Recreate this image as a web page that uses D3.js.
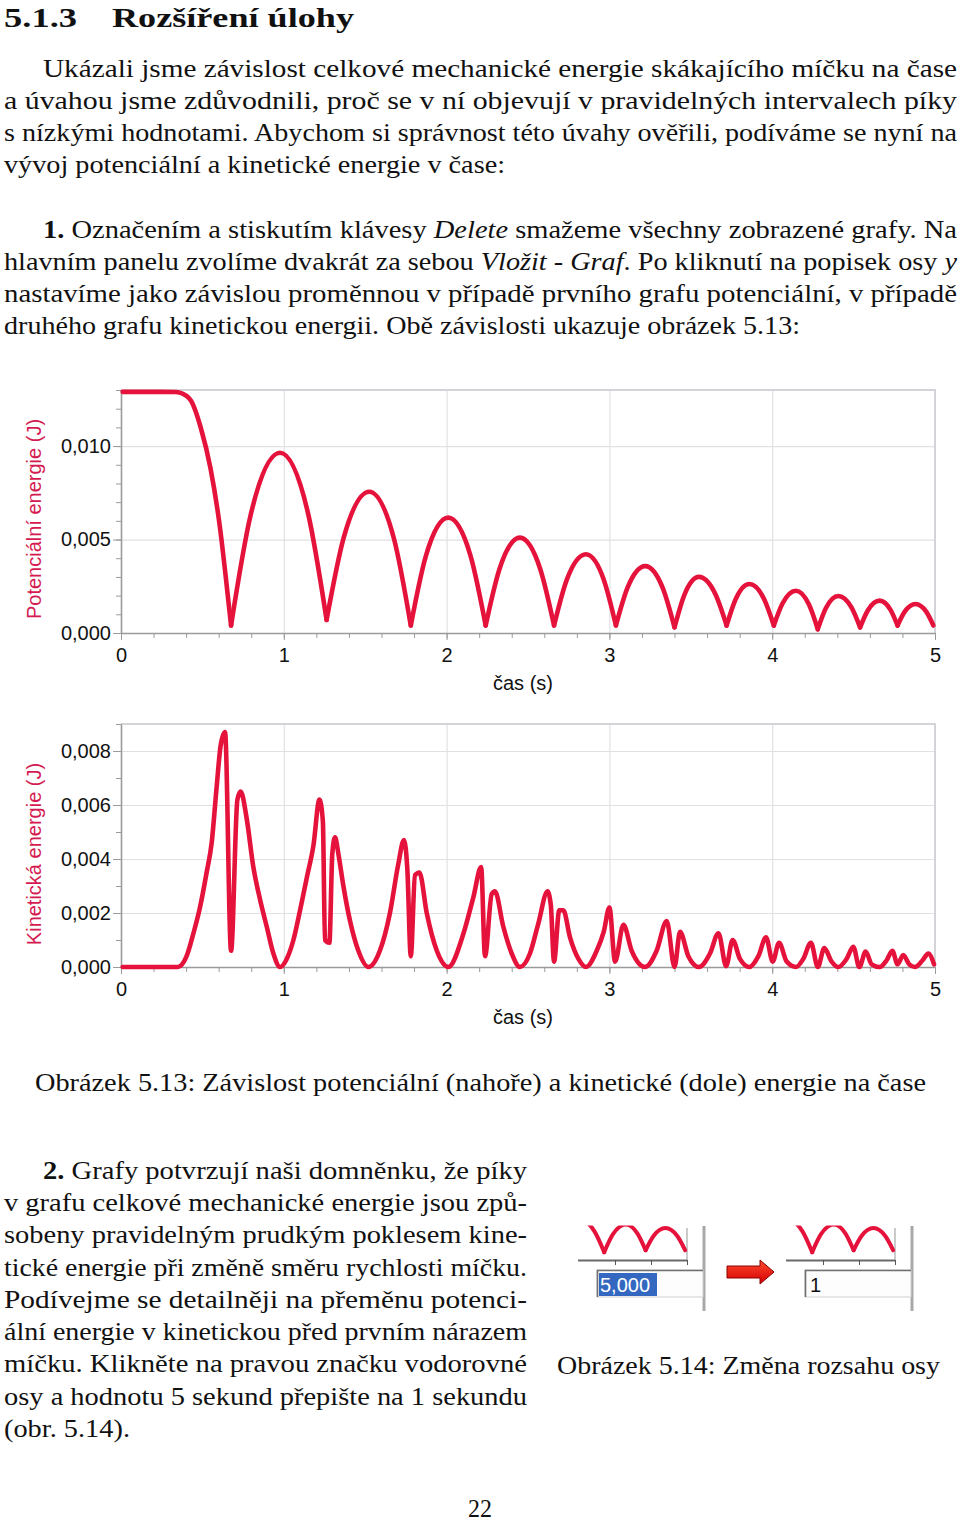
<!DOCTYPE html>
<html><head><meta charset="utf-8">
<script src="https://cdn.jsdelivr.net/npm/d3@7"></script>
<style>html,body{margin:0;padding:0;background:#fff;}svg{display:block;}</style>
</head><body><svg id="page" width="960" height="1521"></svg>
<script>
// ---------- data ----------
const xTicks = [0, 1, 2, 3, 4, 5];
const peTicks = [0, 0.005, 0.010];
const keTicks = [0, 0.002, 0.004, 0.006, 0.008];
const axisLabelX = "čas (s)";
const peLabel = "Potenciální energie (J)";
const keLabel = "Kinetická energie (J)";

// potential energy (t [s], E [J])
const peT = [0.01,0.20,0.33,0.37,0.43,0.49,0.55,0.61,0.646,0.676,
  0.796,0.977,1.149,1.263,1.368,1.525,1.678,1.780,1.872,2.010,2.148,2.240,
  2.324,2.450,2.576,2.660,2.738,2.856,2.966,3.040,3.112,3.220,3.328,3.400,
  3.460,3.550,3.652,3.720,3.776,3.860,3.950,4.010,4.064,4.146,4.226,4.280,
  4.330,4.406,4.486,4.540,4.588,4.660,4.726,4.770,4.814,4.880,4.946,4.990];
const peV = [0.0129,0.0129,0.01289,0.01283,0.01242,0.01098,0.0088,0.0055,0.0028,0.0004,
  0.0063,0.00964,0.0064,0.0007,0.0051,0.00756,0.0050,0.0004,0.0041,0.00617,0.0041,0.0004,
  0.0034,0.0051,0.0034,0.0004,0.00284,0.00421,0.00284,0.0004,0.00244,0.00358,0.0024,0.0003,
  0.00203,0.0030,0.00206,0.0004,0.00182,0.00262,0.00182,0.0004,0.00159,0.00226,0.00152,0.0002,
  0.00134,0.00198,0.00138,0.0003,0.00122,0.00173,0.00125,0.0004,0.00114,0.00155,0.00114,0.0004];

// kinetic energy (t [s], E [J])
const keT = [0.01,0.35,0.403,0.445,0.485,0.526,0.557,0.588,0.612,0.639,0.676,0.715,0.735,0.772,0.813,0.854,0.895,0.936,0.977,
  1.018,1.059,1.100,1.141,1.182,1.219,1.240,1.253,1.280,1.298,1.315,1.335,1.366,1.407,1.458,1.520,
  1.590,1.652,1.703,1.738,1.759,1.780,1.806,1.833,1.878,1.940,2.010,
  2.104,2.165,2.212,2.236,2.277,2.297,2.348,2.400,2.450,
  2.512,2.563,2.620,2.640,2.660,2.692,2.717,2.758,2.810,2.856,
  2.922,2.965,3.000,3.035,3.086,3.137,3.220,
  3.290,3.352,3.400,3.434,3.485,3.550,
  3.618,3.670,3.717,3.757,3.802,3.860,
  3.915,3.962,4.003,4.042,4.089,4.146,
  4.191,4.238,4.280,4.320,4.365,4.406,
  4.457,4.498,4.535,4.574,4.611,4.660,
  4.703,4.738,4.770,4.805,4.842,4.877,
  4.924,4.959,4.994];
const keV = [0,0,0.0004,0.00125,0.0022,0.0035,0.0046,0.0067,0.0082,0.0087,0.0006,0.0062,0.0065,0.0055,0.0037,0.0025,0.0015,0.0005,0,
  0.0003,0.0010,0.0021,0.0033,0.0045,0.0062,0.0054,0.0010,0.0009,0.0042,0.0048,0.0042,0.0030,0.0017,0.0006,0,
  0.0006,0.0020,0.0038,0.0047,0.0036,0.0004,0.0034,0.0035,0.0020,0.0006,0,
  0.00125,0.0026,0.0037,0.0004,0.0027,0.0028,0.0015,0.0005,0,
  0.0005,0.0016,0.0028,0.0023,0.0002,0.0021,0.0021,0.0011,0.0003,0,
  0.0006,0.0013,0.0022,0.0002,0.00156,0.0006,0,
  0.0006,0.0017,0.0000,0.0013,0.0004,0,
  0.0005,0.00125,0.00003,0.0010,0.0003,0,
  0.0004,0.0011,0.0002,0.0009,0.0002,0,
  0.0003,0.0009,0.0000,0.0007,0.0002,0,
  0.0003,0.00075,0.0000,0.00057,0.0001,0,
  0.00025,0.0006,0.0001,0.00044,0.0001,0,
  0.00025,0.0005,0.0001];

// mini illustration (obr. 5.14)
const miniTicks = [4.6, 4.8, 5.0];
const miniBoxTexts = ["5,000", "1"];

// ---------- page ----------
const svg = d3.select("#page");
const RED = "#e5133c";
const LABEL_RED = "#d41a50";
const SANS = "'Liberation Sans', Arial, sans-serif";
const SERIF = "'Liberation Serif', Tinos, 'Times New Roman', Times, serif";

const loc = d3.formatLocale({decimal: ",", thousands: " ", grouping: [3], currency: ["", ""]});
const fmt3 = loc.format(".3f");

const x = d3.scaleLinear().domain([0, 5]).range([121, 935]);

function splitMinima(pts) {
  const segs = [];
  let start = 0;
  for (let i = 1; i < pts.length - 1; i++) {
    if (pts[i][1] < pts[i - 1][1] && pts[i][1] < pts[i + 1][1]) { segs.push(pts.slice(start, i + 1)); start = i; }
  }
  segs.push(pts.slice(start));
  return segs;
}

function drawChart(y, ticks, tArr, vArr, label, labelCy, splitAtMinima) {
  const g = svg.append("g");
  const [yb, yt] = y.range();
  const ymax = y.domain()[1];
  g.append("g").attr("transform", `translate(0,${yb})`)
    .call(d3.axisBottom(x).tickValues(xTicks.slice(1, -1)).tickSize(-(yb - yt)).tickFormat(""))
    .call(a => a.select(".domain").remove())
    .selectAll("line").attr("stroke", "#e1e1e4").attr("stroke-width", 1.2);
  g.append("g").attr("transform", `translate(${x(0)},0)`)
    .call(d3.axisLeft(y).tickValues(ticks.slice(1)).tickSize(-(x(5) - x(0))).tickFormat(""))
    .call(a => a.select(".domain").remove())
    .selectAll("line").attr("stroke", "#e1e1e4").attr("stroke-width", 1.2);
  g.append("path").attr("d", `M${x(0)},${y(ymax)}H${x(5)}V${yb}`)
    .attr("fill", "none").attr("stroke", "#d4d4d8").attr("stroke-width", 2);
  g.append("g").attr("transform", `translate(0,${yb})`).attr("color", "#9a9a9a")
    .call(d3.axisBottom(x).tickValues(d3.range(0, 5.0001, 0.2)).tickSize(5).tickSizeOuter(0).tickFormat(""));
  g.append("g").attr("transform", `translate(${x(0)},0)`).attr("color", "#9a9a9a")
    .call(d3.axisLeft(y).tickValues(d3.range(0, ymax + 1e-9, 0.001)).tickSize(5).tickSizeOuter(0).tickFormat(""));
  const ax = g.append("g").attr("transform", `translate(0,${yb})`).attr("color", "#9a9a9a")
    .call(d3.axisBottom(x).tickValues(xTicks).tickSize(7).tickSizeOuter(0).tickPadding(8).tickFormat(d3.format("d")));
  const ay = g.append("g").attr("transform", `translate(${x(0)},0)`).attr("color", "#9a9a9a")
    .call(d3.axisLeft(y).tickValues(ticks).tickSize(8).tickSizeOuter(0).tickPadding(2).tickFormat(fmt3));
  [ax, ay].forEach(a => {
    a.attr("font-family", SANS).attr("font-size", 20);
    a.selectAll(".domain").attr("stroke-width", 1.6);
    a.selectAll("text").attr("fill", "#111");
  });
  g.append("text").attr("x", 523).attr("y", yb + 57).attr("text-anchor", "middle")
    .attr("font-family", SANS).attr("font-size", 20).attr("fill", "#111").text(axisLabelX);
  g.append("text").attr("transform", `translate(41,${labelCy}) rotate(-90)`).attr("text-anchor", "middle")
    .attr("font-family", SANS).attr("font-size", 20).attr("fill", LABEL_RED).text(label);
  const pts = tArr.map((t, i) => [t, vArr[i]]);
  const line = d3.line().x(d => x(d[0])).y(d => y(d[1])).curve(d3.curveMonotoneX);
  const segs = splitAtMinima ? splitMinima(pts) : [pts];
  g.selectAll("path.series").data(segs).join("path").attr("class", "series")
    .attr("d", line).attr("fill", "none").attr("stroke", RED).attr("stroke-width", 4.6)
    .attr("stroke-linejoin", "round").attr("stroke-linecap", "round");
}

const yPE = d3.scaleLinear().domain([0, 0.013]).range([633, 390]);
const yKE = d3.scaleLinear().domain([0, 0.009]).range([967, 724]);
drawChart(yPE, peTicks, peT, peV, peLabel, 519, true);
drawChart(yKE, keTicks, keT, keV, keLabel, 854, false);

// ---------- text ----------
const textLines = [
  {x: 4, y: 27, w: 73, size: 27, parts: [{s: "5.1.3", b: 1}]},
  {x: 112, y: 27, w: 242, size: 27, parts: [{s: "Rozšíření úlohy", b: 1}]},
  {x: 43, y: 77, w: 914, size: 25, parts: [{s: "Ukázali jsme závislost celkové mechanické energie skákajícího míčku na čase"}]},
  {x: 4, y: 109, w: 953, size: 25, parts: [{s: "a úvahou jsme zdůvodnili, proč se v ní objevují v pravidelných intervalech píky"}]},
  {x: 4, y: 141, w: 953, size: 25, parts: [{s: "s nízkými hodnotami. Abychom si správnost této úvahy ověřili, podíváme se nyní na"}]},
  {x: 4, y: 173, w: 501, size: 25, parts: [{s: "vývoj potenciální a kinetické energie v čase:"}]},
  {x: 43, y: 238, w: 914, size: 25, parts: [{s: "1.", b: 1}, {s: " Označením a stiskutím klávesy "}, {s: "Delete", i: 1}, {s: " smažeme všechny zobrazené grafy. Na"}]},
  {x: 4, y: 270, w: 953, size: 25, parts: [{s: "hlavním panelu zvolíme dvakrát za sebou "}, {s: "Vložit - Graf", i: 1}, {s: ". Po kliknutí na popisek osy "}, {s: "y", i: 1}]},
  {x: 4, y: 302, w: 953, size: 25, parts: [{s: "nastavíme jako závislou proměnnou v případě prvního grafu potenciální, v případě"}]},
  {x: 4, y: 334, w: 796, size: 25, parts: [{s: "druhého grafu kinetickou energii. Obě závislosti ukazuje obrázek 5.13:"}]},
  {x: 35, y: 1091, w: 891, size: 25, parts: [{s: "Obrázek 5.13: Závislost potenciální (nahoře) a kinetické (dole) energie na čase"}]},
  {x: 43, y: 1179, w: 484, size: 25, parts: [{s: "2.", b: 1}, {s: " Grafy potvrzují naši domněnku, že píky"}]},
  {x: 4, y: 1211, w: 523, size: 25, parts: [{s: "v grafu celkové mechanické energie jsou způ-"}]},
  {x: 4, y: 1243, w: 523, size: 25, parts: [{s: "sobeny pravidelným prudkým poklesem kine-"}]},
  {x: 4, y: 1276, w: 523, size: 25, parts: [{s: "tické energie při změně směru rychlosti míčku."}]},
  {x: 4, y: 1308, w: 523, size: 25, parts: [{s: "Podívejme se detailněji na přeměnu potenci-"}]},
  {x: 4, y: 1340, w: 523, size: 25, parts: [{s: "ální energie v kinetickou před prvním nárazem"}]},
  {x: 4, y: 1372, w: 523, size: 25, parts: [{s: "míčku. Klikněte na pravou značku vodorovné"}]},
  {x: 4, y: 1405, w: 523, size: 25, parts: [{s: "osy a hodnotu 5 sekund přepište na 1 sekundu"}]},
  {x: 4, y: 1437, w: 126, size: 25, parts: [{s: "(obr. 5.14)."}]},
  {x: 557, y: 1374, w: 383, size: 25, parts: [{s: "Obrázek 5.14: Změna rozsahu osy"}]},
  {x: 468, y: 1517, w: 24, size: 25, parts: [{s: "22"}]}
];
textLines.forEach(L => {
  const t = svg.append("text").attr("x", L.x).attr("y", L.y)
    .attr("font-family", SERIF).attr("font-size", L.size).attr("fill", "#111")
    .style("white-space", "pre")
    .attr("textLength", L.w).attr("lengthAdjust", "spacingAndGlyphs");
  L.parts.forEach(p => t.append("tspan")
    .attr("font-weight", p.b ? "bold" : null)
    .attr("font-style", p.i ? "italic" : null)
    .text(p.s));
});

// ---------- obr. 5.14 illustration ----------
const defs = svg.append("defs");
const grad = defs.append("linearGradient").attr("id", "arrowGrad").attr("x1", 0).attr("y1", 0).attr("x2", 0).attr("y2", 1);
grad.append("stop").attr("offset", 0).attr("stop-color", "#ff4a30");
grad.append("stop").attr("offset", 1).attr("stop-color", "#d30000");

function miniPanel(ox, idx) {
  const g = svg.append("g");
  const xm = d3.scaleLinear().domain([4.4, 5.0]).range([ox + 1, ox + 109]);
  const ym = d3.scaleLinear().domain([0, 0.0015]).range([1258, 1229]);
  const cid = "clip" + idx;
  defs.append("clipPath").attr("id", cid).append("rect")
    .attr("x", xm(4.4)).attr("y", 1225.5).attr("width", xm(5.0) - xm(4.4) + 3).attr("height", 36);
  g.append("line").attr("x1", ox + 126).attr("x2", ox + 126).attr("y1", 1226).attr("y2", 1311)
    .attr("stroke", "#a8a8a8").attr("stroke-width", 3);
  g.append("line").attr("x1", xm(5.0)).attr("x2", xm(5.0)).attr("y1", 1228).attr("y2", 1260)
    .attr("stroke", "#b8b8b8").attr("stroke-width", 1.5);
  const pts = peT.map((t, i) => [t, peV[i]]).filter(d => d[0] >= 4.2);
  const line = d3.line().x(d => xm(d[0])).y(d => ym(d[1])).curve(d3.curveMonotoneX);
  g.append("g").attr("clip-path", `url(#${cid})`).selectAll("path").data(splitMinima(pts)).join("path")
    .attr("d", line).attr("fill", "none").attr("stroke", RED).attr("stroke-width", 4)
    .attr("stroke-linejoin", "round").attr("stroke-linecap", "round");
  g.append("g").attr("transform", "translate(0,1260)").attr("color", "#555")
    .call(d3.axisBottom(xm).tickValues(miniTicks).tickSize(5).tickSizeOuter(0).tickFormat(""))
    .call(a => a.select(".domain").attr("d", `M${ox},0.5H${xm(5.0)}`).attr("stroke-width", 2.2).attr("stroke", "#6a6a6a"));
  g.append("rect").attr("x", ox + 19).attr("y", 1270).attr("width", 106).attr("height", 27)
    .attr("fill", "#fdfdfd").attr("stroke", "#d0d0d0");
  g.append("path").attr("d", `M${ox + 19.5},1297V1270.5H${ox + 125}`).attr("fill", "none")
    .attr("stroke", "#707070").attr("stroke-width", 1.6);
  if (idx === 0) {
    g.append("rect").attr("x", ox + 21).attr("y", 1273).attr("width", 58).attr("height", 23).attr("fill", "#3468c0");
    g.append("text").attr("x", ox + 22).attr("y", 1292).attr("font-family", SANS).attr("font-size", 20)
      .attr("fill", "#fff").text(miniBoxTexts[0]);
  } else {
    g.append("text").attr("x", ox + 24).attr("y", 1292).attr("font-family", SANS).attr("font-size", 20)
      .attr("fill", "#111").text(miniBoxTexts[1]);
  }
}
miniPanel(578, 0);
miniPanel(786, 1);
svg.append("path").attr("d", "M727,1266H760V1260L774,1272L760,1284V1278H727Z")
  .attr("fill", "url(#arrowGrad)").attr("stroke", "#8a0000").attr("stroke-width", 1);
</script></body></html>
